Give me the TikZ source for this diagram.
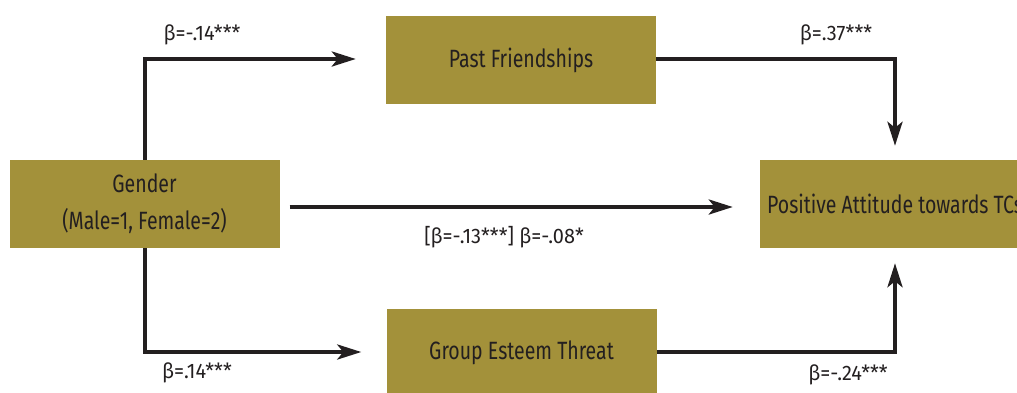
\documentclass[tikz,border=0pt]{standalone}
\usepackage{fontspec}
\setmainfont{Fira Sans}
\newfontfamily\boxfont[FakeStretch=0.78]{Fira Sans}
\newfontfamily\labfont[FakeStretch=0.95]{Fira Sans}
\usetikzlibrary{arrows.meta}
\definecolor{boxolive}{RGB}{163,145,58}
\definecolor{ink}{RGB}{35,31,32}
\begin{document}
\begin{tikzpicture}[x=1pt,y=-1pt,
  box/.style={fill=boxolive, inner sep=0pt, text=ink, minimum width=270pt, minimum height=88pt,
    font=\boxfont\fontsize{25}{37}\selectfont, align=center},
  conn/.style={draw=ink, line width=4pt, line join=miter,
    -{Stealth[length=24pt,width=15pt,inset=6pt]}},
  lab/.style={text=ink, inner sep=0pt, font=\labfont\fontsize{21}{25}\selectfont}]
\useasboundingbox (0,0) rectangle (1017,392);
\begin{scope}
\clip (0,0) rectangle (1017,392);
\node[box] (past) at (521,60) {Past Friendships};
\node[box] (gender) at (144.5,204) {Gender\\(Male=1, Female=2)};
\node[box] (pos) at (895,204) {Positive Attitude towards TCs};
\node[box] (ges) at (521.5,353) {Group Esteem Threat};

\draw[conn] (gender.north) |- ([xshift=-30pt,yshift=1pt]past.west);
\draw[conn] ([yshift=1pt]past.east) -| ([yshift=14pt]pos.north);
\draw[conn] ([xshift=10pt,yshift=-3pt]gender.east) -- ([xshift=-27pt,yshift=-3pt]pos.west);
\draw[conn] (gender.south) |- ([xshift=-25pt,yshift=1pt]ges.west);
\draw[conn] ([yshift=1pt]ges.east) -| ([yshift=-15pt]pos.south);

\node[lab] (l1) at (202,35) {β=-.14***};
\node[lab] (l2) at (836,35) {β=.37***};
\node[lab] (l3) at (504,237) {[β=-.13***] β=-.08*};
\node[lab] (l4) at (197,373) {β=.14***};
\node[lab] (l5) at (848,375) {β=-.24***};
\end{scope}
\end{tikzpicture}
\end{document}
